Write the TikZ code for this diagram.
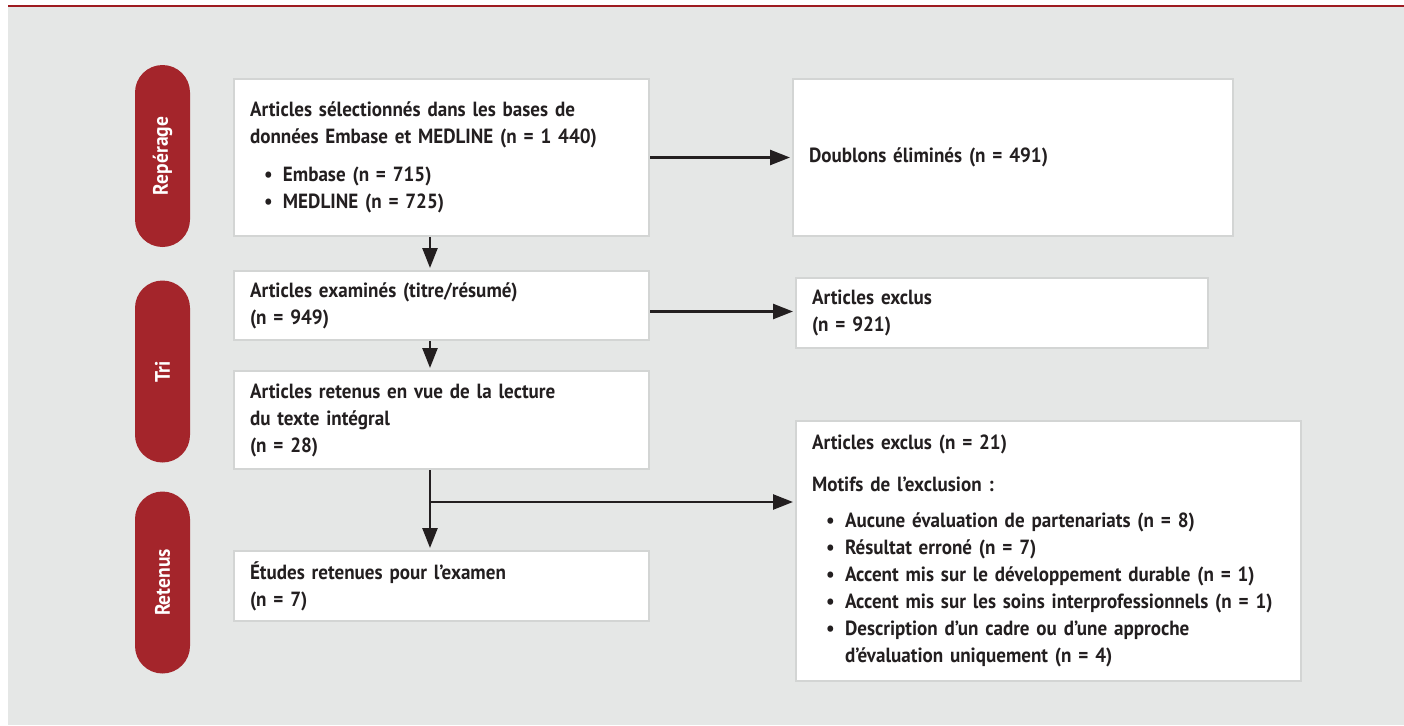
\documentclass[tikz,border=0pt]{standalone}
\usepackage{fontspec}
\setmainfont{PT Sans}[FakeStretch=0.93]
\usetikzlibrary{arrows.meta}
\usetikzlibrary{positioning}

\definecolor{fond}{HTML}{E5E7E6}
\definecolor{filet}{HTML}{9E1B20}
\definecolor{pastille}{HTML}{A4252B}
\definecolor{cadre}{HTML}{D3D5D4}
\definecolor{encre}{HTML}{231F20}

\newcommand\puce{\hspace*{14pt}\makebox[19pt][l]{\textbullet}}

\tikzset{
  etape/.style={draw=cadre, line width=2pt, fill=white, anchor=north west,
    inner xsep=16pt, inner ysep=0pt, align=left, text=encre,
    font=\bfseries\fontsize{20.5pt}{27pt}\selectfont},
  phase/.style={fill=pastille, rounded corners=27.5pt, rotate=90,
    minimum width=182pt, minimum height=55pt, inner sep=0pt, text=white,
    font=\bfseries\fontsize{21pt}{22pt}\selectfont},
  fleche/.style={draw=encre, line width=2.5pt,
    -{Triangle[length=20pt, width=15pt]}, shorten >=2pt},
}

\begin{document}
\begin{tikzpicture}[x=1pt,y=-1pt]
  \useasboundingbox (0,0) rectangle (1404,725);
  \fill[fond] (8,7) rectangle (1404,725);
  \draw[filet, line width=2pt] (8,6) -- (1404,6);

  \node[phase] (p-reperage) at (162.5,156) {Repérage};
  \node[phase] (p-tri) at (162.5,371.5) {Tri};
  \node[phase] (p-retenus) at (162.5,582.5) {Retenus};

  \node[etape, text width=383pt, minimum height=157pt] (selection) at (233,78)
    {Articles sélectionnés dans les bases de\\
     données Embase et MEDLINE (n = 1~440)\\[11pt]
     \puce Embase (n = 715)\\
     \puce MEDLINE (n = 725)};
  \node[etape, text width=408pt, minimum height=157pt] (doublons) at (792,78)
    {Doublons éliminés (n = 491)};
  \node[etape, text width=383pt, minimum height=69pt] (examines) at (233,270)
    {Articles examinés (titre/résumé)\\(n = 949)};
  \node[etape, text width=380pt, minimum height=70pt] (exclus) at (795,277)
    {Articles exclus\\(n = 921)};
  \node[etape, text width=383pt, minimum height=98pt] (lecture) at (233,370)
    {Articles retenus en vue de la lecture\\du texte intégral\\(n = 28)};
  \node[etape, text width=473pt, minimum height=260pt] (motifs) at (795,420)
    {Articles exclus (n = 21)\\[15pt]
     Motifs de l’exclusion~:\\[9pt]
     \puce Aucune évaluation de partenariats (n = 8)\\
     \puce Résultat erroné (n = 7)\\
     \puce Accent mis sur le développement durable (n = 1)\\
     \puce Accent mis sur les soins interprofessionnels (n = 1)\\
     \puce Description d’un cadre ou d’une approche\\
     \hspace*{33pt}d’évaluation uniquement (n = 4)};
  \node[etape, text width=383pt, minimum height=70pt] (etudes) at (233,550)
    {Études retenues pour l’examen\\(n = 7)};

  \coordinate (axe) at (430,0);
  \coordinate (fourche) at (430,502);
  \draw[fleche] (selection.east) -- (doublons.west);
  \draw[fleche] ([yshift=-6pt]examines.east) -- ([yshift=-6pt]examines.east -| exclus.west);
  \draw[fleche] (selection.south -| axe) -- (examines.north -| axe);
  \draw[fleche] (examines.south -| axe) -- (lecture.north -| axe);
  \draw[fleche] (lecture.south -| axe) -- (etudes.north -| axe);
  \draw[fleche] (fourche) -- (fourche -| motifs.west);
\end{tikzpicture}
\end{document}
